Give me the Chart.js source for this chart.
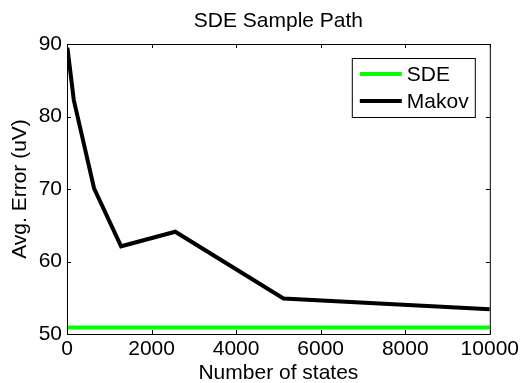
<!DOCTYPE html>
<html>
<head>
<meta charset="utf-8">
<script src="https://cdn.jsdelivr.net/npm/chart.js@4"></script>
<style>
  html, body { margin: 0; padding: 0; background: #fff; }
  #wrap { width: 522px; height: 383px; }
</style>
</head>
<body>
<div id="wrap"><canvas id="chart" width="522" height="383"></canvas></div>
<script>
const states = [10, 160, 640, 1280, 2560, 5120, 10000];
const sdeError = [50.9, 50.9, 50.9, 50.9, 50.9, 50.9, 50.9];
const makovError = [89.5, 82.3, 70.1, 62.1, 64.1, 54.9, 53.4];
const xTicks = [0, 2000, 4000, 6000, 8000, 10000];
const yTicks = [50, 60, 70, 80, 90];
const chartTitle = 'SDE Sample Path';

const FONT = "'Liberation Sans', Arial, Helvetica, sans-serif";

// MATLAB style box with inward ticks, title over the axes, legend inside
const boxPlugin = {
  id: 'box',
  afterDatasetsDraw(chart) {
    const { ctx, chartArea: a, scales } = chart;
    ctx.save();
    ctx.strokeStyle = '#000';
    ctx.lineWidth = 1;
    ctx.strokeRect(a.left + 0.5, a.top + 0.5, a.right - a.left, a.bottom - a.top);
    const len = 4;
    ctx.beginPath();
    xTicks.forEach(v => {
      const x = Math.round(scales.x.getPixelForValue(v)) + 0.5;
      ctx.moveTo(x, a.bottom); ctx.lineTo(x, a.bottom - len);
      ctx.moveTo(x, a.top); ctx.lineTo(x, a.top + len);
    });
    yTicks.forEach(v => {
      const y = Math.round(scales.y.getPixelForValue(v)) + 0.5;
      ctx.moveTo(a.left, y); ctx.lineTo(a.left + len, y);
      ctx.moveTo(a.right, y); ctx.lineTo(a.right - len, y);
    });
    ctx.stroke();

    ctx.font = '21px ' + FONT;
    ctx.fillStyle = '#000';
    ctx.textAlign = 'center';
    ctx.textBaseline = 'alphabetic';
    ctx.fillText(chartTitle, (a.left + a.right) / 2, 27);

    // legend
    const w = 123, h = 59;
    const lx = a.right - 15 - w, ly = a.top + 14;
    ctx.fillStyle = '#fff';
    ctx.fillRect(lx, ly, w, h);
    ctx.strokeRect(lx + 0.5, ly + 0.5, w, h);
    ctx.textAlign = 'left';
    ctx.textBaseline = 'middle';
    chart.data.datasets.forEach((ds, i) => {
      const y = ly + 16 + i * 27;
      ctx.strokeStyle = ds.borderColor;
      ctx.lineWidth = 4;
      ctx.beginPath();
      ctx.moveTo(lx + 8, y); ctx.lineTo(lx + 50, y);
      ctx.stroke();
      ctx.fillStyle = '#000';
      ctx.fillText(ds.label, lx + 55, y + 1);
    });
    ctx.restore();
  }
};

new Chart(document.getElementById('chart').getContext('2d'), {
  type: 'line',
  data: {
    datasets: [{
      label: 'SDE',
      data: states.map((s, i) => ({ x: s, y: sdeError[i] })),
      borderColor: '#00ff00',
      borderWidth: 4,
      pointRadius: 0,
      fill: false,
      tension: 0
    }, {
      label: 'Makov',
      data: states.map((s, i) => ({ x: s, y: makovError[i] })),
      borderColor: '#000000',
      borderWidth: 4,
      pointRadius: 0,
      fill: false,
      tension: 0
    }]
  },
  options: {
    responsive: false,
    animation: false,
    layout: { padding: { left: 0, right: 31, top: 44, bottom: 0 } },
    plugins: {
      legend: { display: false },
      tooltip: { enabled: false },
      title: { display: false }
    },
    scales: {
      x: {
        type: 'linear',
        min: 0,
        max: 10000,
        afterBuildTicks(scale) { scale.ticks = xTicks.map(v => ({ value: v })); },
        afterFit(scale) { scale.height = 49; },
        grid: { display: false, tickLength: 0 },
        border: { display: false },
        ticks: {
          color: '#000',
          padding: 3,
          maxRotation: 0,
          font: { family: FONT, size: 21 },
          callback: v => String(v)
        },
        title: {
          display: true,
          text: 'Number of states',
          color: '#000',
          font: { family: FONT, size: 21, lineHeight: 0.9 },
          padding: { top: 0, bottom: 0 }
        }
      },
      y: {
        min: 50,
        max: 90,
        afterBuildTicks(scale) { scale.ticks = yTicks.map(v => ({ value: v })); },
        afterFit(scale) { scale.width = 67; },
        grid: { display: false, tickLength: 0 },
        border: { display: false },
        ticks: {
          color: '#000',
          padding: 5,
          font: { family: FONT, size: 21 }
        },
        title: {
          display: true,
          text: 'Avg. Error (uV)',
          color: '#000',
          font: { family: FONT, size: 21, lineHeight: 1.2 },
          padding: { top: 8, bottom: 0 }
        }
      }
    }
  },
  plugins: [boxPlugin]
});
</script>
</body>
</html>
